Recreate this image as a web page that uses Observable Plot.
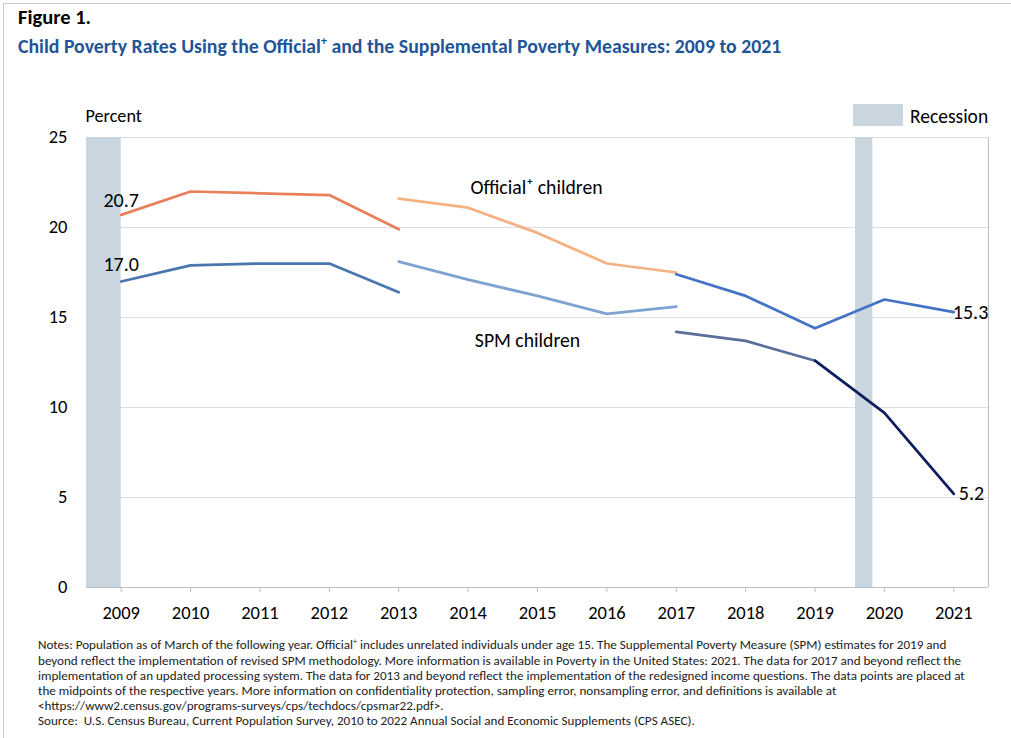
<!DOCTYPE html>
<html>
<head>
<meta charset="utf-8">
<script src="https://cdn.jsdelivr.net/npm/d3@7"></script>
<script src="https://cdn.jsdelivr.net/npm/@observablehq/plot@0.6"></script>
<style>
  html, body { margin: 0; padding: 0; background: #fff; }
  body { width: 1011px; height: 738px; position: relative; overflow: hidden;
         font-family: Carlito, Lato, "Open Sans", sans-serif; color: #000; }
  .frame { position: absolute; left: 3px; top: 3px; width: 1100px; height: 800px;
           border-left: 1px solid #c8c8c8; border-top: 1px solid #c8c8c8; }
  .fig { position: absolute; left: 18px; top: 5px; font-size: 20.5px; font-weight: bold; line-height: 24px; }
  .title { position: absolute; left: 18px; top: 29px; font-size: 19.8px; font-weight: bold; color: #1f5596; white-space: nowrap; line-height: 24px; }
  .title sup { font-size: 12px; }
  #chart { position: absolute; left: 0; top: 90px; }
  .legsw { position: absolute; left: 853px; top: 104px; width: 50px; height: 22px; background: #c9d6df; }
  .legtx { position: absolute; left: 910px; top: 105px; font-size: 19.5px; line-height: 22px; }
  .notes { position: absolute; left: 38px; top: 634px; font-size: 13.1px; line-height: 15.2px; color: #222; white-space: nowrap; }
  .notes sup { font-size: 8px; }
</style>
</head>
<body>
<div class="frame"></div>
<div class="fig">Figure 1.</div>
<div class="title">Child Poverty Rates Using the Official<sup>+</sup> and the Supplemental Poverty Measures: 2009 to 2021</div>
<div id="chart"></div>
<div class="legsw"></div>
<div class="legtx">Recession</div>
<div class="notes">
Notes: Population as of March of the following year. Official<sup>+</sup> includes unrelated individuals under age 15. The Supplemental Poverty Measure (SPM) estimates for 2019 and<br>
beyond reflect the implementation of revised SPM methodology. More information is available in Poverty in the United States: 2021. The data for 2017 and beyond reflect the<br>
implementation of an updated processing system. The data for 2013 and beyond reflect the implementation of the redesigned income questions. The data points are placed at<br>
the midpoints of the respective years. More information on confidentiality protection, sampling error, nonsampling error, and definitions is available at<br>
&lt;https://www2.census.gov/programs-surveys/cps/techdocs/cpsmar22.pdf&gt;.<br>
Source:&nbsp; U.S. Census Bureau, Current Population Survey, 2010 to 2022 Annual Social and Economic Supplements (CPS ASEC).
</div>
<script>
// ---- Data ----
const years = [2009, 2010, 2011, 2012, 2013, 2014, 2015, 2016, 2017, 2018, 2019, 2020, 2021];
// Official+ children
const officialOld = [20.7, 22.0, 21.9, 21.8, 19.9];        // 2009–2013
const officialRedesign = [21.6, 21.1, 19.7, 18.0, 17.5];   // 2013–2017
const officialUpdated = [17.4, 16.2, 14.4, 16.0, 15.3];    // 2017–2021
// SPM children
const spmOld = [17.0, 17.9, 18.0, 18.0, 16.4];             // 2009–2013
const spmRedesign = [18.1, 17.1, 16.2, 15.2, 15.6];        // 2013–2017
const spmUpdated = [14.2, 13.7, 12.6];                     // 2017–2019
const spmRevised = [12.6, 9.7, 5.2];                       // 2019–2021
// Recessions (decimal years)
const recessionStart = [2007.917, 2020.083];
const recessionEnd = [2009.5, 2020.333];
const xDomain = [2009, 2022];
const yTicks = [0, 5, 10, 15, 20, 25];

// ---- Build tables ----
const segDefs = [
  {key: "officialOld", start: 2009, values: officialOld, color: "#e8805c"},
  {key: "officialRedesign", start: 2013, values: officialRedesign, color: "#f5b183"},
  {key: "officialUpdated", start: 2017, values: officialUpdated, color: "#4472c4"},
  {key: "spmOld", start: 2009, values: spmOld, color: "#4a76b0"},
  {key: "spmRedesign", start: 2013, values: spmRedesign, color: "#7ea3d0"},
  {key: "spmUpdated", start: 2017, values: spmUpdated, color: "#5b6f9c"},
  {key: "spmRevised", start: 2019, values: spmRevised, color: "#0c1f5c"}
];
const rows = segDefs.flatMap(s => s.values.map((v, i) => ({key: s.key, year: s.start + i, value: v, color: s.color})));
const recessions = recessionStart.map((s, i) => ({start: s, end: recessionEnd[i]}));
const mid = d => d.year + 0.5;
const pick = (key, year) => rows.filter(r => r.key === key && r.year === year);

const fontFam = "Carlito, Lato, 'Open Sans', sans-serif";

const chart = Plot.plot({
  width: 1011,
  height: 540,
  marginLeft: 86,
  marginRight: 23,
  marginTop: 47,
  marginBottom: 43,
  x: {domain: xDomain},
  y: {domain: [0, 25]},
  style: {fontFamily: fontFam, fontSize: "18.5px", color: "#000", background: "transparent", overflow: "visible"},
  marks: [
    Plot.gridY(yTicks.filter(t => t > 0), {stroke: "#dedede", strokeOpacity: 1}),
    Plot.rect(recessions, {x1: "start", x2: "end", fill: "#c9d6df", clip: true}),
    Plot.ruleY([0], {stroke: "#bfbfbf"}),
    Plot.ruleX([xDomain[1]], {stroke: "#bfbfbf"}),
    Plot.axisX(years.map(y => y + 0.5), {tickFormat: d => String(Math.floor(d)), tickSize: 5, tickPadding: 13, stroke: "#bfbfbf", label: null}),
    Plot.axisY(yTicks, {tickSize: 0, tickPadding: 19, label: null}),
    ...segDefs.map(s => Plot.line(rows.filter(r => r.key === s.key), {x: mid, y: "value", stroke: s.color, strokeWidth: 2.75})),
    // value labels
    Plot.text(pick("officialOld", 2009), {x: mid, y: "value", text: d => d.value.toFixed(1), dy: -14, fontSize: 20}),
    Plot.text(pick("spmOld", 2009), {x: mid, y: "value", text: d => d.value.toFixed(1), dy: -17, fontSize: 20}),
    Plot.text(pick("officialUpdated", 2021), {x: mid, y: "value", text: d => d.value.toFixed(1), textAnchor: "start", dx: -1, dy: 0, fontSize: 20}),
    Plot.text(pick("spmRevised", 2021), {x: mid, y: "value", text: d => d.value.toFixed(1), textAnchor: "start", dx: 5, dy: 0, fontSize: 20}),
    // series labels
    Plot.text(pick("officialRedesign", 2015), {x: mid, y: "value", text: () => "Official\u207A children", dy: -45, dx: -1, fontSize: 19.7}),
    Plot.text(pick("spmRedesign", 2015), {x: mid, y: "value", text: () => "SPM children", dy: 45, dx: -10, fontSize: 19.7}),
    // "Percent" label
    Plot.text(["Percent"], {frameAnchor: "top-left", textAnchor: "start", lineAnchor: "middle", dy: -21, dx: -1, fontSize: 18.2})
  ]
});
document.getElementById("chart").appendChild(chart);
</script>
</body>
</html>
